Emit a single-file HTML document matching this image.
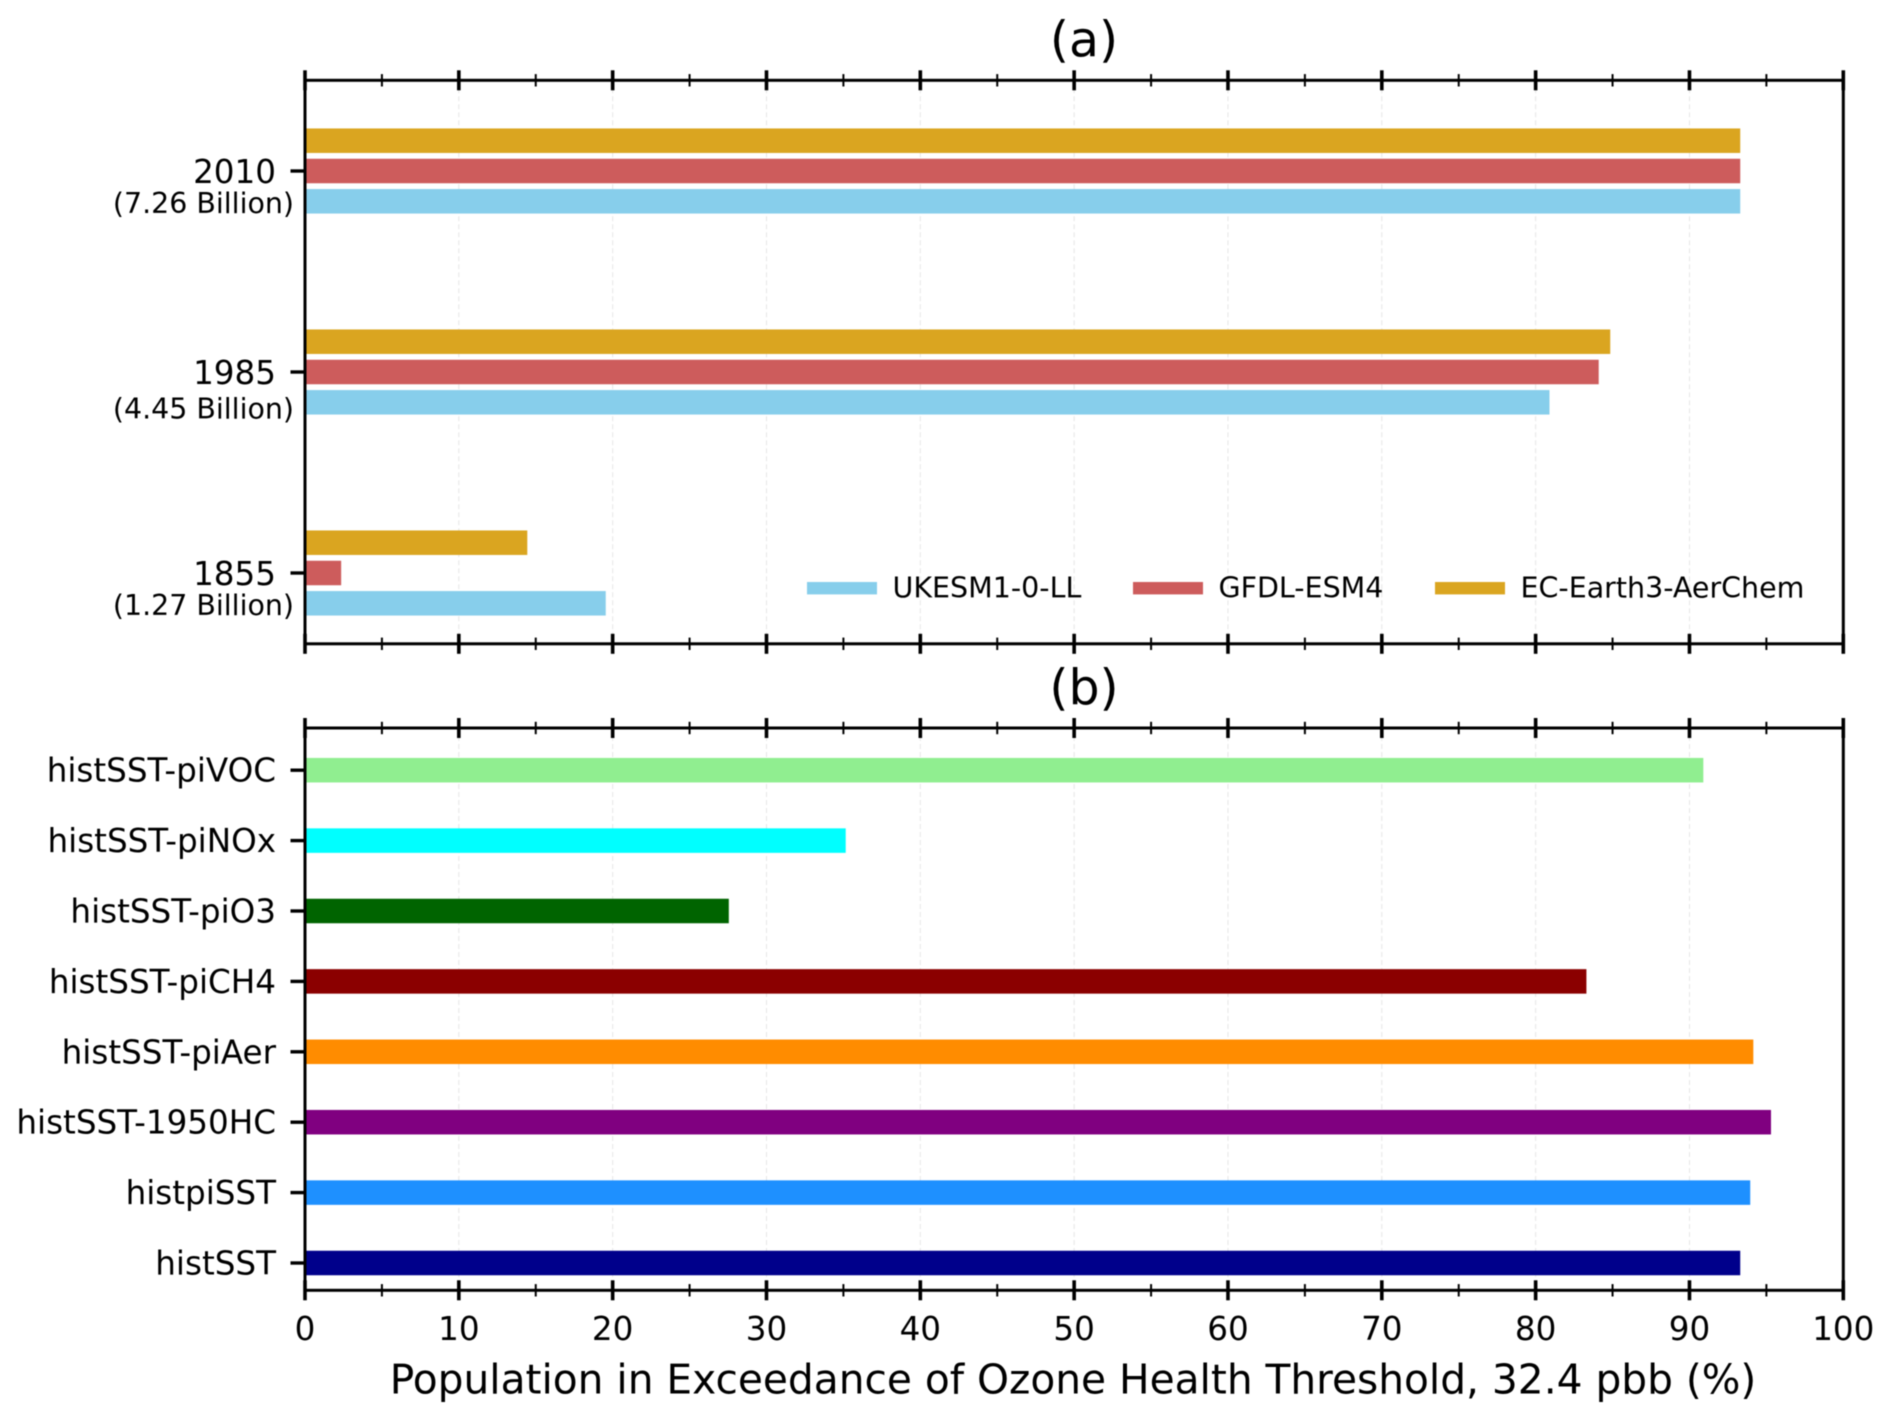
<!DOCTYPE html>
<html lang="en">
<head>
<meta charset="utf-8">
<title>Population in Exceedance of Ozone Health Threshold</title>
<style>
  html, body { margin: 0; padding: 0; background: #fff; width: 1892px; height: 1422px; overflow: hidden; }
  svg { display: block; filter: blur(0.45px); }
  text { font-family: "DejaVu Sans", "Liberation Sans", sans-serif; fill: #000; }
  .tick { font-size: 32.6px; }
  .pop { font-size: 28.45px; }
  .leg { font-size: 28.5px; }
  .ttl { font-size: 49px; text-anchor: middle; }
</style>
</head>
<body>
<svg id="chart" xmlns="http://www.w3.org/2000/svg" width="1892" height="1422" viewBox="0 0 1892 1422">
  <rect x="0" y="0" width="1892" height="1422" fill="#ffffff"/>
  <g id="layer-grid"></g>
  <g id="layer-bars"></g>
  <g id="layer-axes"></g>
  <g id="layer-labels"></g>

  <text class="ttl" x="1084" y="56.5">(a)</text>
  <text class="ttl" x="1084" y="704.5">(b)</text>
  <text x="1073" y="1393.5" font-size="40.7" text-anchor="middle">Population in Exceedance of Ozone Health Threshold, 32.4 pbb (%)</text>

  <g>
    <g>
      <rect x="807" y="582" width="70" height="12.4" fill="#87CEEB"/>
      <text class="leg" x="892.5" y="597.7">UKESM1-0-LL</text>
    </g>
    <g>
      <rect x="1133" y="582" width="70" height="12.4" fill="#CD5C5C"/>
      <text class="leg" x="1218.5" y="597.7">GFDL-ESM4</text>
    </g>
    <g>
      <rect x="1435" y="582" width="70" height="12.4" fill="#DAA520"/>
      <text class="leg" x="1520.5" y="597.7">EC-Earth3-AerChem</text>
    </g>
  </g>
</svg>

<script>
// ---- Panel (a) data ----
const yearCategories = ['1855', '1985', '2010'];
const populationLabels = ['(1.27 Billion)', '(4.45 Billion)', '(7.26 Billion)'];
const ukesmValues = [19.55, 80.9, 93.3];
const gfdlValues = [2.35, 84.1, 93.3];
const ecEarthValues = [14.45, 84.85, 93.3];

// ---- Panel (b) data (bottom to top) ----
const experimentCategories = ['histSST', 'histpiSST', 'histSST-1950HC', 'histSST-piAer', 'histSST-piCH4', 'histSST-piO3', 'histSST-piNOx', 'histSST-piVOC'];
const experimentValues = [93.3, 93.95, 95.3, 94.15, 83.3, 27.55, 35.15, 90.9];
const experimentColors = ['#00008B', '#1E90FF', '#800080', '#FF8C00', '#8B0000', '#006400', '#00FFFF', '#90EE90'];

// ---- Shared axis ticks ----
const xMajorTicks = [0, 10, 20, 30, 40, 50, 60, 70, 80, 90, 100];
const xMinorTicks = [5, 15, 25, 35, 45, 55, 65, 75, 85, 95];

const SVG_NS = 'http://www.w3.org/2000/svg';
const gridLayer = document.getElementById('layer-grid');
const barLayer = document.getElementById('layer-bars');
const axisLayer = document.getElementById('layer-axes');
const labelLayer = document.getElementById('layer-labels');

// Axis functions
const PLOT_LEFT = 305, PLOT_RIGHT = 1843.3;
const PANEL_A_TOP = 80.3, PANEL_A_BOTTOM = 643.8;
const PANEL_B_TOP = 728, PANEL_B_BOTTOM = 1290.3;
const BAR_HEIGHT = 24.5;
function xScale(v) { return PLOT_LEFT + (v / 100) * (PLOT_RIGHT - PLOT_LEFT); }
function yScaleA(i) { return 573 - i * 201; }
function yScaleB(i) { return 1263 - i * 70.4; }

function add(parent, tag, attrs, text) {
  const el = document.createElementNS(SVG_NS, tag);
  for (const k in attrs) el.setAttribute(k, attrs[k]);
  if (text !== undefined) el.textContent = text;
  parent.appendChild(el);
  return el;
}

function drawBar(value, centerY, color, name) {
  const bar = add(barLayer, 'rect', {
    x: xScale(0), y: centerY - BAR_HEIGHT / 2,
    width: xScale(value) - xScale(0), height: BAR_HEIGHT, fill: color
  });
  
  
}

// Gridlines
[[PANEL_A_TOP, PANEL_A_BOTTOM, 'a'], [PANEL_B_TOP, PANEL_B_BOTTOM, 'b']].forEach(function (panel) {
  xMajorTicks.slice(1, -1).forEach(function (t) {
    const line = add(gridLayer, 'line', {
      x1: xScale(t), x2: xScale(t), y1: panel[0], y2: panel[1],
      stroke: '#e6e6e6', 'stroke-width': 1, 'stroke-dasharray': '5 3'
    });
    
    
  });
});

// Panel (a) bars
yearCategories.forEach(function (year, i) {
  const c = yScaleA(i);
  drawBar(ecEarthValues[i], c - 30.3, '#DAA520', 'bar-ec-earth-' + year);
  drawBar(gfdlValues[i], c, '#CD5C5C', 'bar-gfdl-' + year);
  drawBar(ukesmValues[i], c + 30.3, '#87CEEB', 'bar-ukesm-' + year);
});

// Panel (b) bars
experimentCategories.forEach(function (exp, i) {
  drawBar(experimentValues[i], yScaleB(i), experimentColors[i], 'bar-' + exp.toLowerCase());
});

// Spines and x ticks
function drawSpines(top, bottom, panel) {
  const box = add(axisLayer, 'rect', {
    x: PLOT_LEFT, y: top, width: PLOT_RIGHT - PLOT_LEFT, height: bottom - top,
    fill: 'none', stroke: '#000', 'stroke-width': 3
  });
  
  
  [top, bottom].forEach(function (edge) {
    xMajorTicks.forEach(function (t) {
      const tick = add(axisLayer, 'line', {
        x1: xScale(t), x2: xScale(t), y1: edge - 10, y2: edge + 10,
        stroke: '#000', 'stroke-width': 3.6
      });
      
      
    });
    xMinorTicks.forEach(function (t) {
      const tick = add(axisLayer, 'line', {
        x1: xScale(t), x2: xScale(t), y1: edge - 6.2, y2: edge + 6.2,
        stroke: '#000', 'stroke-width': 2
      });
      
      
    });
  });
}
drawSpines(PANEL_A_TOP, PANEL_A_BOTTOM, 'a');
drawSpines(PANEL_B_TOP, PANEL_B_BOTTOM, 'b');

function drawYTick(y, name) {
  const tick = add(axisLayer, 'line', {
    x1: 290.5, x2: PLOT_LEFT, y1: y, y2: y, stroke: '#000', 'stroke-width': 3.4
  });
  
  
}

// Panel (a) y ticks and labels
yearCategories.forEach(function (year, i) {
  const c = yScaleA(i);
  drawYTick(c, 'y-tick-' + year);
  const yearLabel = add(labelLayer, 'text', { class: 'tick', x: 276, y: c + 12, 'text-anchor': 'end' }, year);
  
  
  const drop = year === '1985' ? 46.5 : 42;
  const popLabel = add(labelLayer, 'text', { class: 'pop', x: 294, y: c + drop, 'text-anchor': 'end' }, populationLabels[i]);
  
  
});

// Panel (b) y ticks and labels
experimentCategories.forEach(function (exp, i) {
  const c = yScaleB(i);
  drawYTick(c, 'y-tick-' + exp.toLowerCase());
  const label = add(labelLayer, 'text', { class: 'tick', x: 276, y: c + 11.5, 'text-anchor': 'end' }, exp);
  
  
});

// X tick labels
xMajorTicks.forEach(function (t) {
  const label = add(labelLayer, 'text', { class: 'tick', x: xScale(t), y: 1340, 'text-anchor': 'middle' }, String(t));
  
  
});
</script>
</body>
</html>
